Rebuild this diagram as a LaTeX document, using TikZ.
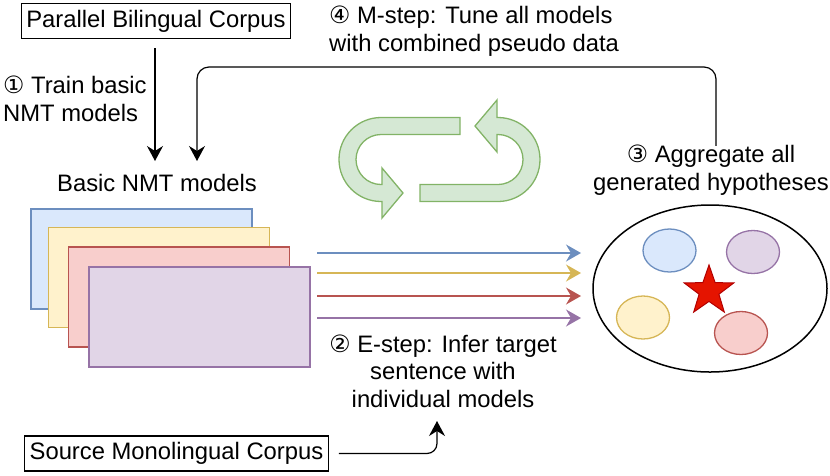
\documentclass[tikz,border=0pt]{standalone}
\usepackage{fontspec}
\setmainfont{Liberation Sans}
\newfontfamily\symfont{DejaVu Sans}
\usetikzlibrary{shapes.geometric,arrows.meta,calc}
\definecolor{blueD}{HTML}{6C8EBF}\definecolor{blueF}{HTML}{DAE8FC}
\definecolor{yelD}{HTML}{D6B656}\definecolor{yelF}{HTML}{FFF2CC}
\definecolor{redD}{HTML}{B85450}\definecolor{redF}{HTML}{F8CECC}
\definecolor{purD}{HTML}{9673A6}\definecolor{purF}{HTML}{E1D5E7}
\definecolor{grnD}{HTML}{82B366}\definecolor{grnF}{HTML}{D5E8D4}
\definecolor{starF}{HTML}{E51400}\definecolor{starD}{HTML}{B20000}
\newcommand{\cn}[1]{{\symfont #1}}
\tikzset{
  txt/.style={font=\fontsize{23.8}{27.5}\selectfont, inner sep=0pt},
  corpus/.style={txt, draw, line width=1.2pt, inner xsep=5pt, inner ysep=0pt, minimum height=35pt},
  model/.style={draw=#1D, fill=#1F, line width=1.3pt, minimum width=221pt, minimum height=100pt, inner sep=0pt},
  hyp/.style={ellipse, draw=#1D, fill=#1F, line width=1.3pt, minimum width=53pt, minimum height=43pt, inner sep=0pt},
  arr/.style={line width=1.2pt, -{Stealth[length=15pt,width=16pt,inset=5pt]}},
  carr/.style={line width=1.3pt, draw=#1D, -{Stealth[length=15pt,width=17pt,inset=5pt]}},
  uturn/.style={draw=grnD, fill=grnF, line width=1.3pt, line join=miter},
}
\begin{document}
\begin{tikzpicture}[x=1pt,y=-1pt]
\useasboundingbox (0,0) rectangle (830,475);
% corpora
\node[corpus] (bil) at (156,21) {Parallel Bilingual Corpus};
\node[corpus] (src) at (176.5,453.5) {Source Monolingual Corpus};
% labels
\node[txt, align=left, anchor=west] (train) at (3,99) {\cn{①} Train basic\\NMT models};
\node[txt, align=left, anchor=west] (mstep) at (329,31) {\cn{④} M-step: Tune all models\\with combined pseudo data};
\node[txt] (basic) at (157,183) {Basic NMT models};
\node[txt, align=center] (agg) at (711,170) {\cn{③} Aggregate all\\generated hypotheses};
\node[txt, align=center] (estep) at (443,371) {\cn{②} E-step: Infer target\\sentence with\\individual models};
% model stack
\node[model=blue] (m1) at (141.5,259) {};
\node[model=yel] (m2) at (159,277.5) {};
\node[model=red] (m3) at (179,297) {};
\node[model=pur] (m4) at (199.5,317) {};
% hypotheses
\node[ellipse, draw, line width=1.5pt, minimum width=234pt, minimum height=167pt, inner sep=0pt] (pool) at (710,288.5) {};
\node[hyp=blue] (h1) at (669.5,250.5) {};
\node[hyp=pur] (h2) at (753,252) {};
\node[hyp=yel] (h3) at (643,317.5) {};
\node[hyp=red] (h4) at (741,333) {};
\node[star, star points=5, star point ratio=2.5, draw=starD, fill=starF, line width=1pt, minimum size=52pt, inner sep=0pt] (best) at (709,291) {};
% coloured inference arrows
\coordinate (a1s) at (317,253); \coordinate (a1e) at (581,253);
\coordinate (a2s) at (317,273); \coordinate (a2e) at (581,273);
\coordinate (a3s) at (317,296); \coordinate (a3e) at (581,296);
\coordinate (a4s) at (317,318); \coordinate (a4e) at (581,318);
\draw[carr=blue] (a1s) -- (a1e);
\draw[carr=yel] (a2s) -- (a2e);
\draw[carr=red] (a3s) -- (a3e);
\draw[carr=pur] (a4s) -- (a4e);
% black arrows
\coordinate (in1) at (155,161);
\coordinate (in2) at (197,161);
\coordinate (lc) at (197,67);
\coordinate (etip) at (437,421);
\draw[arr] ([yshift=-9pt]bil.south -| in1) -- (in1);
\draw[arr, rounded corners=12pt] ([yshift=-1pt]agg.north -| 716,0) |- (lc) -- (in2);
\draw[arr, rounded corners=10pt] ([xshift=10pt]src.east) -| (etip);
% green u-turn arrows
\draw[uturn] (460,117.5) -- (381,117.5) arc[start angle=90,end angle=270,radius=42pt]
  -- (382,201.5) -- (382,218) -- (403,193) -- (382,168) -- (382,184.5) -- (381,184.5)
  arc[start angle=270,end angle=90,radius=25pt] -- (460,134.5) -- cycle;
\draw[uturn] (420,201.5) -- (498,201.5) arc[start angle=-90,end angle=90,radius=42pt]
  -- (497,117.5) -- (497,100) -- (475,126) -- (497,152) -- (497,134.5) -- (498,134.5)
  arc[start angle=90,end angle=-90,radius=25pt] -- (420,184.5) -- cycle;
\end{tikzpicture}
\end{document}
